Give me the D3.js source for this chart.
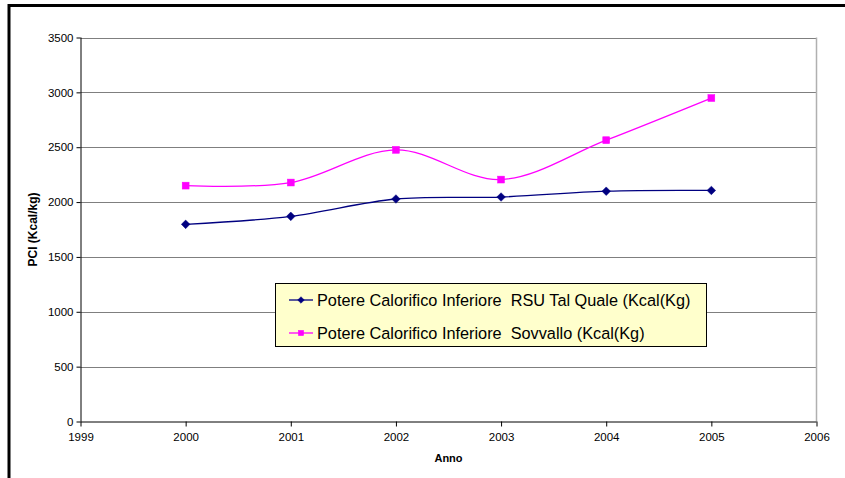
<!DOCTYPE html>
<html>
<head>
<meta charset="utf-8">
<script src="https://cdn.jsdelivr.net/npm/d3@7"></script>
<style>
  html, body { margin: 0; padding: 0; background: #fff; }
  svg { display: block; font-family: "Liberation Sans", Arial, sans-serif; }
</style>
</head>
<body>
<svg id="chart" width="845" height="478"></svg>
<script>
const years = [2000, 2001, 2002, 2003, 2004, 2005];
const rsuTalQuale = [1797, 1870, 2028, 2046, 2099, 2106];
const sovvallo = [2150, 2178, 2476, 2205, 2564, 2948];
const seriesNames = [
  "Potere Calorifico Inferiore  RSU Tal Quale (Kcal(Kg)",
  "Potere Calorifico Inferiore  Sovvallo (Kcal(Kg)"
];
const xTicks = [1999, 2000, 2001, 2002, 2003, 2004, 2005, 2006];
const yTicks = [0, 500, 1000, 1500, 2000, 2500, 3000, 3500];
const xTitle = "Anno";
const yTitle = "PCI (Kcal/kg)";

const svg = d3.select("#chart");
const W = 845, H = 478;
const plot = { left: 80.5, right: 816.5, top: 37.5, bottom: 421.5 };

// outer frame
svg.append("rect").attr("x", 0).attr("y", 0).attr("width", W).attr("height", H).attr("fill", "#fff");
svg.append("path")
  .attr("d", `M9,${H} L9,5.5 L${W},5.5`)
  .attr("fill", "none").attr("stroke", "#000").attr("stroke-width", 3);

const x = d3.scaleLinear().domain([1999, 2006]).range([plot.left, plot.right]);
const y = d3.scaleLinear().domain([0, 3500]).range([plot.bottom, plot.top]);

// gridlines
svg.append("g").selectAll("line").data(yTicks.filter(d => d > 0)).join("line")
  .attr("x1", plot.left).attr("x2", plot.right)
  .attr("y1", d => Math.round(y(d)) + 0.5).attr("y2", d => Math.round(y(d)) + 0.5)
  .attr("stroke", "#7f7f7f").attr("stroke-width", 1);

// right plot border
svg.append("line")
  .attr("x1", plot.right).attr("x2", plot.right)
  .attr("y1", plot.top).attr("y2", plot.bottom)
  .attr("stroke", "#b0b0b0").attr("stroke-width", 1.5);

// axes
const yAxis = d3.axisLeft(y).tickValues(yTicks).tickSize(4).tickPadding(3).tickFormat(d3.format("d"));
const gy = svg.append("g").attr("transform", `translate(${plot.left},0)`).call(yAxis);
const xAxis = d3.axisBottom(x).tickValues(xTicks).tickSize(5).tickPadding(6).tickFormat(d3.format("d"));
const gx = svg.append("g").attr("transform", `translate(0,${plot.bottom})`).call(xAxis);
[gx, gy].forEach(g => {
  g.select(".domain").attr("stroke", "#000");
  g.selectAll(".tick line").attr("stroke", "#000");
  g.selectAll("text").attr("font-size", 11.5).attr("fill", "#000")
    .attr("font-family", "'Liberation Sans', Arial, sans-serif");
});
gy.select(".domain").attr("d", `M0.5,${plot.top}V${plot.bottom}`);
gx.select(".domain").attr("d", `M${plot.left},0.5H${plot.right}`);

// axis titles
svg.append("text").attr("x", (plot.left + plot.right) / 2).attr("y", 462)
  .attr("text-anchor", "middle").attr("font-size", 11).attr("font-weight", "bold").text(xTitle);
svg.append("text").attr("transform", `translate(37,${(plot.top + plot.bottom) / 2}) rotate(-90)`)
  .attr("text-anchor", "middle").attr("font-size", 12).attr("font-weight", "bold").text(yTitle);

// lines
const series = [
  { name: seriesNames[0], values: rsuTalQuale, color: "#000080", marker: "diamond" },
  { name: seriesNames[1], values: sovvallo, color: "#ff00ff", marker: "square" }
];
const line = d3.line().x(d => x(d[0])).y(d => y(d[1])).curve(d3.curveCardinal.tension(0));

function drawMarker(g, type, cx, cy, color, r) {
  if (type === "diamond") {
    g.append("path").attr("d", `M${cx},${cy - r}L${cx + r},${cy}L${cx},${cy + r}L${cx - r},${cy}Z`)
      .attr("fill", color).attr("stroke", color).attr("stroke-width", 0.5);
  } else {
    const s = r * 0.8;
    g.append("rect").attr("x", cx - s).attr("y", cy - s).attr("width", 2 * s).attr("height", 2 * s)
      .attr("fill", color).attr("stroke", color).attr("stroke-width", 0.5);
  }
}

series.forEach(s => {
  const pts = years.map((yr, i) => [yr, s.values[i]]);
  svg.append("path").datum(pts).attr("d", line)
    .attr("fill", "none").attr("stroke", s.color).attr("stroke-width", 1.3);
  const mg = svg.append("g");
  pts.forEach(p => drawMarker(mg, s.marker, x(p[0]), y(p[1]), s.color, 4.3));
});

// legend
const lg = svg.append("g");
lg.append("rect").attr("x", 275.5).attr("y", 283.5).attr("width", 431).attr("height", 63)
  .attr("fill", "#ffffcc").attr("stroke", "#000").attr("stroke-width", 1);
series.forEach((s, i) => {
  const cy = 300 + i * 33;
  lg.append("line").attr("x1", 289).attr("x2", 313).attr("y1", cy).attr("y2", cy)
    .attr("stroke", s.color).attr("stroke-width", 1.3);
  drawMarker(lg, s.marker, 301, cy, s.color, 3.3);
  lg.append("text").attr("x", 317).attr("y", cy + 5.5).attr("font-size", 16.3).attr("fill", "#000")
    .attr("xml:space", "preserve").style("white-space", "pre").text(s.name);
});
</script>
</body>
</html>
